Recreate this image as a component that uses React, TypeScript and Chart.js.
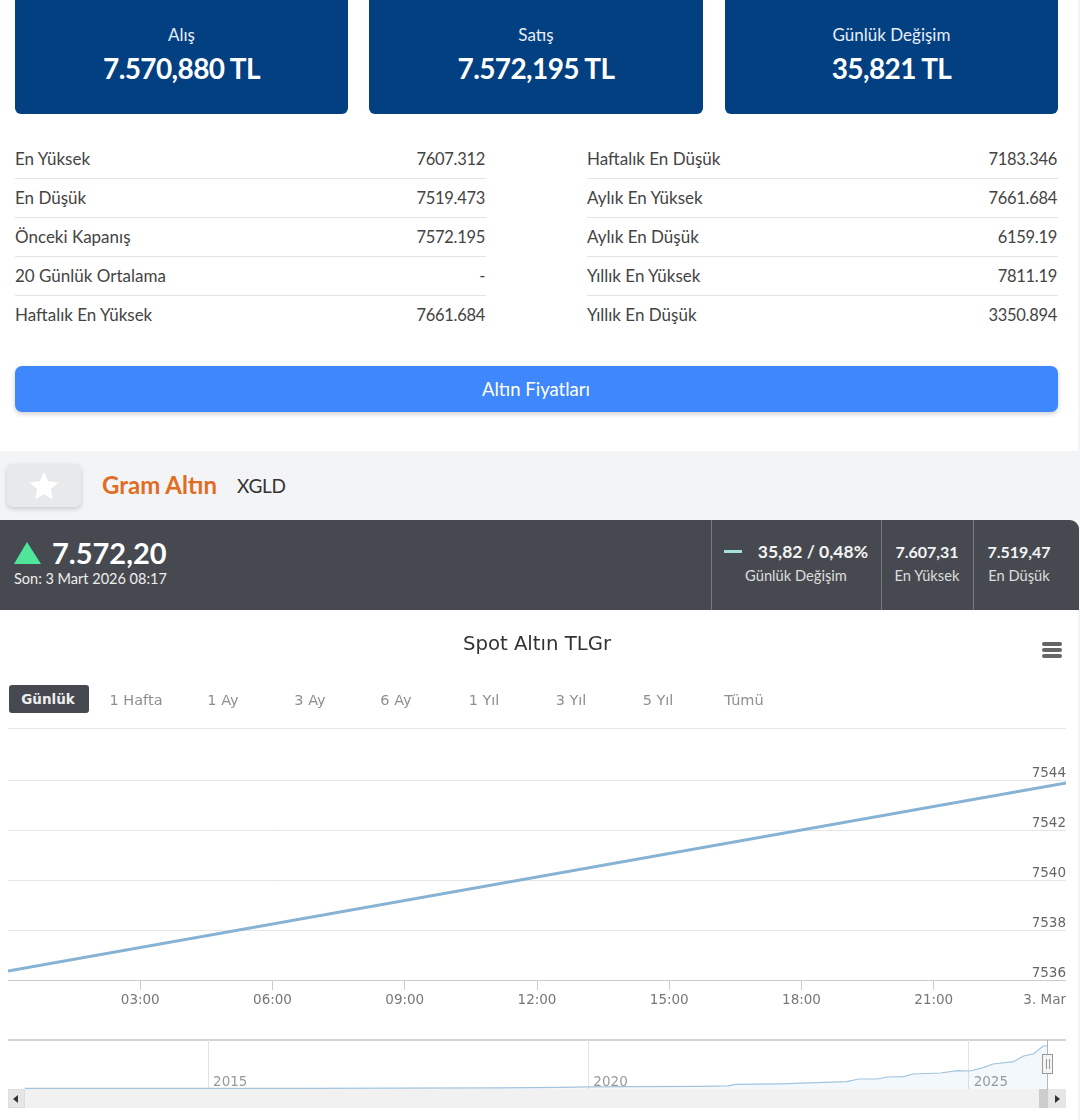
import { useEffect, useRef } from 'react'
import Chart from 'chart.js/auto'

const DEJAVU = '"DejaVu Sans", sans-serif'
const LATO = 'Lato, sans-serif'

// header cards
const cardLabels = ['Alış', 'Satış', 'Günlük Değişim']
const cardValues = ['7.570,880 TL', '7.572,195 TL', '35,821 TL']

// stats table
const leftNames = ['En Yüksek', 'En Düşük', 'Önceki Kapanış', '20 Günlük Ortalama', 'Haftalık En Yüksek']
const leftValues = ['7607.312', '7519.473', '7572.195', '-', '7661.684']
const rightNames = ['Haftalık En Düşük', 'Aylık En Yüksek', 'Aylık En Düşük', 'Yıllık En Yüksek', 'Yıllık En Düşük']
const rightValues = ['7183.346', '7661.684', '6159.19', '7811.19', '3350.894']

// range selector
const ranges = ['1 Hafta', '1 Ay', '3 Ay', '6 Ay', '1 Yıl', '3 Yıl', '5 Yıl', 'Tümü']

// main chart: hours of the day against price
const hours = [0, 24]
const prices = [7536.36, 7543.88]
const hourTicks = [0, 3, 6, 9, 12, 15, 18, 21, 24]
const hourLabels = ['', '03:00', '06:00', '09:00', '12:00', '15:00', '18:00', '21:00', '3. Mar']
const priceTicks = [7536, 7538, 7540, 7542, 7544]
const priceLabels = ['7536', '7538', '7540', '7542', '7544']

// navigator: whole history
const navYears = [2012.59, 2014.58, 2015, 2016.2, 2017.5, 2018.84, 2019.63, 2020, 2020.55, 2021.47, 2021.84, 2021.93, 2022.52, 2023.4, 2023.55, 2023.8, 2023.93, 2024.14, 2024.27, 2024.63, 2024.85, 2025.02, 2025.19, 2025.32, 2025.59, 2025.72, 2025.85, 2025.98, 2026.03]
const navPrices = [120, 100, 105, 120, 150, 200, 290, 370, 430, 460, 540, 800, 900, 1290, 1760, 1760, 2110, 2170, 2640, 2815, 3220, 3170, 3750, 4400, 4800, 5800, 6160, 7570, 7610]
const navTicks = [2015, 2020, 2025]

function Txt({ x, y, size, color = '#444', weight = 400, align = 'left', font = LATO, spacing = 0, children }: any) {
  const shift = align === 'center' ? '-50%' : align === 'right' ? '-100%' : '0'
  return (
    <div style={{ position: 'absolute', left: x, top: y, transform: `translate(${shift}, -50%)`, fontSize: size, color, fontWeight: weight, fontFamily: font, letterSpacing: spacing, whiteSpace: 'nowrap', lineHeight: 1 }}>
      {children}
    </div>
  )
}

function Box({ x, y, w, h, style }: any) {
  return <div style={{ position: 'absolute', left: x, top: y, width: w, height: h, ...style }} />
}

function MainChart() {
  const ref = useRef<HTMLCanvasElement>(null)
  useEffect(() => {
    if (!ref.current) return
    const chart = new Chart(ref.current, {
      type: 'line',
      data: {
        datasets: [{
          data: hours.map((h, i) => ({ x: h, y: prices[i] })),
          borderColor: '#86b2d4',
          borderWidth: 2.8,
          pointRadius: 0,
          tension: 0,
        }],
      },
      options: {
        responsive: false,
        animation: false,
        layout: { padding: 0 },
        plugins: {
          legend: { display: false },
          tooltip: { enabled: false },
          title: { display: true, text: 'Spot Altın TLGr', color: '#333', font: { family: DEJAVU, size: 19.7, weight: 'normal', lineHeight: 1.2 }, padding: { top: 12, bottom: 73.36 } },
        },
        scales: {
          x: {
            type: 'linear',
            min: 0,
            max: 24,
            afterBuildTicks: (s: any) => { s.ticks = hourTicks.map((value) => ({ value })) },
            // keep the plot flush with the canvas edges, the last label is right aligned anyway
            afterFit: (s: any) => { s.height = 40; s.paddingLeft = 0; s.paddingRight = 0 },
            border: { color: '#cccccc' },
            grid: { drawOnChartArea: false, tickLength: 10, tickColor: (c: any) => (c.index === 0 ? 'transparent' : '#cccccc') },
            ticks: {
              align: 'inner',
              autoSkip: false,
              maxRotation: 0,
              padding: 2,
              color: '#777',
              font: { family: DEJAVU, size: 13.5 },
              callback: (v: any) => hourLabels[hourTicks.indexOf(v)],
            },
          },
          y: {
            position: 'right',
            min: 7536,
            max: 7546,
            afterBuildTicks: (s: any) => { s.ticks = priceTicks.map((value) => ({ value })) },
            afterFit: (s: any) => { s.width = 0 },
            border: { display: false },
            grid: { color: '#e6e6e6', drawTicks: false },
            ticks: {
              mirror: true,
              padding: 0,
              labelOffset: -7,
              color: '#666',
              font: { family: DEJAVU, size: 13.5 },
              callback: (v: any) => priceLabels[priceTicks.indexOf(v)],
            },
          },
        },
      },
    } as any)
    return () => chart.destroy()
  }, [])
  return <canvas ref={ref} width={1058} height={399} style={{ position: 'absolute', left: 8, top: 621 }} />
}

function NavChart() {
  const ref = useRef<HTMLCanvasElement>(null)
  useEffect(() => {
    if (!ref.current) return
    const chart = new Chart(ref.current, {
      type: 'line',
      data: {
        datasets: [{
          data: navYears.map((yr, i) => ({ x: yr, y: navPrices[i] })),
          borderColor: '#a3c4dd',
          borderWidth: 1.2,
          backgroundColor: 'rgba(124,181,236,0.09)',
          fill: 'origin',
          pointRadius: 0,
          tension: 0,
        }],
      },
      options: {
        responsive: false,
        animation: false,
        layout: { padding: { left: 16, right: 19 } },
        plugins: { legend: { display: false }, tooltip: { enabled: false } },
        scales: {
          x: {
            type: 'linear',
            min: 2012.58,
            max: 2026.03,
            afterBuildTicks: (s: any) => { s.ticks = navTicks.map((value) => ({ value })) },
            afterFit: (s: any) => { s.height = 0 },
            border: { display: false },
            grid: { color: '#e2e2e2', drawTicks: false },
            ticks: {
              // mirror draws the labels inside the plot, and skips the clip to the zero height axis box
              mirror: true,
              align: 'start',
              maxRotation: 0,
              labelOffset: 5,
              padding: -2,
              color: '#999',
              font: { family: DEJAVU, size: 13.5 },
              callback: (v: any) => String(v),
            },
          },
          y: { display: false, min: 0, max: 8620 },
        },
      },
    } as any)
    return () => chart.destroy()
  }, [])
  return <canvas ref={ref} width={1058} height={49} style={{ position: 'absolute', left: 8, top: 1040 }} />
}

export default function App() {
  const cardX = [15, 369, 725]
  const cardW = [333, 334, 333]
  const rowY = [159, 198, 237, 276, 315]
  const rangeX = [136, 223, 310, 396, 484, 571, 658, 744]
  return (
    <div style={{ position: 'relative', width: 1080, height: 1120, overflow: 'hidden', background: '#fff' }}>
      <style>{'body{margin:0}'}</style>

      {/* page background strip right of the panels */}
      <Box x={1078} y={0} w={2} h={1120} style={{ background: '#f3f4f6' }} />
      <Box x={0} y={451} w={1080} h={69} style={{ background: '#f3f4f6' }} />

      {cardLabels.map((label, i) => (
        <div key={label}>
          <Box x={cardX[i]} y={-10} w={cardW[i]} h={124} style={{ background: '#024082', borderRadius: 6 }} />
          <Txt x={cardX[i] + cardW[i] / 2} y={34} size={17} color="#e8eef6" align="center">{label}</Txt>
          <Txt x={cardX[i] + cardW[i] / 2} y={67.5} size={28} color="#fff" weight={700} align="center" spacing={-0.6}>{cardValues[i]}</Txt>
        </div>
      ))}

      {rowY.map((y, i) => (
        <div key={y}>
          <Txt x={15} y={y - 1} size={17}>{leftNames[i]}</Txt>
          <Txt x={485} y={y} size={16.5} align="right" spacing={-0.3}>{leftValues[i]}</Txt>
          <Txt x={587} y={y - 1} size={17}>{rightNames[i]}</Txt>
          <Txt x={1057} y={y} size={16.5} align="right" spacing={-0.3}>{rightValues[i]}</Txt>
          {i < 4 && <Box x={15} y={y + 19} w={471} h={1} style={{ background: '#e2e4e6' }} />}
          {i < 4 && <Box x={587} y={y + 19} w={471} h={1} style={{ background: '#e2e4e6' }} />}
        </div>
      ))}

      <Box x={15} y={366} w={1043} h={46} style={{ background: '#3f87fd', borderRadius: 7, boxShadow: '0 2px 5px rgba(0,0,0,0.2)' }} />
      <Txt x={536} y={389} size={18.5} color="#fff" align="center">Altın Fiyatları</Txt>

      <Box x={7} y={464} w={74} h={43} style={{ background: '#e8e9ea', borderRadius: 6, boxShadow: '0 2px 5px rgba(0,0,0,0.18)' }} />
      <svg viewBox="0 0 24 24" width={32} height={32} style={{ position: 'absolute', left: 28, top: 470 }}>
        <path fill="#fff" d="M12 1.5l3.2 7 7.6.8-5.7 5.1 1.6 7.5L12 18.1l-6.7 3.8 1.6-7.5L1.2 9.3l7.6-.8z" />
      </svg>
      <Txt x={102} y={485} size={24} color="#e06d23" weight={700}>Gram Altın</Txt>
      <Txt x={237} y={485} size={19} color="#333" spacing={-0.3}>XGLD</Txt>

      {/* dark quote bar */}
      <Box x={0} y={520} w={1079} h={90} style={{ background: '#464a50', borderTopRightRadius: 9 }} />
      <svg width={28} height={24} style={{ position: 'absolute', left: 14, top: 541 }}>
        <polygon points="13,1 27,23 0,23" fill="#4fe69b" />
      </svg>
      <Txt x={52} y={552} size={29} color="#fff" weight={700}>7.572,20</Txt>
      <Txt x={14} y={579} size={14.5} color="#eee">Son: 3 Mart 2026 08:17</Txt>
      <Box x={711} y={520} w={1} h={90} style={{ background: '#777b80' }} />
      <Box x={881} y={520} w={1} h={90} style={{ background: '#777b80' }} />
      <Box x={973} y={520} w={1} h={90} style={{ background: '#777b80' }} />
      <Box x={724} y={550} w={18} h={3} style={{ background: '#a5dfe0' }} />
      <Txt x={868} y={551.5} size={17.5} color="#f4f4f4" weight={700} align="right">35,82 / 0,48%</Txt>
      <Txt x={796} y={575} size={14.7} color="#ddd" align="center">Günlük Değişim</Txt>
      <Txt x={927} y={551.5} size={16} color="#f4f4f4" weight={700} align="center">7.607,31</Txt>
      <Txt x={927} y={575} size={14.7} color="#ddd" align="center">En Yüksek</Txt>
      <Txt x={1019} y={551.5} size={16} color="#f4f4f4" weight={700} align="center">7.519,47</Txt>
      <Txt x={1019} y={575} size={14.7} color="#ddd" align="center">En Düşük</Txt>

      <MainChart />

      {/* export menu icon */}
      {[642, 648, 654].map((y) => (
        <Box key={y} x={1042} y={y} w={20} h={3.5} style={{ background: '#666', borderRadius: 2 }} />
      ))}

      {/* range selector */}
      <Box x={9} y={685} w={80} h={28} style={{ background: '#464a50', borderRadius: 3 }} />
      <Txt x={48} y={700} size={13.5} color="#eee" weight={700} align="center" font={DEJAVU}>Günlük</Txt>
      {ranges.map((r, i) => (
        <Txt key={r} x={rangeX[i]} y={700} size={14.5} color="#8f8f8f" align="center" font={DEJAVU}>{r}</Txt>
      ))}
      <Box x={8} y={728} w={1058} h={1} style={{ background: '#e6e6e6' }} />

      {/* navigator */}
      <Box x={8} y={1039} w={1058} h={2} style={{ background: '#d4d4d4' }} />
      <NavChart />
      <Box x={8} y={1089} w={1058} h={19} style={{ background: '#f1f1f1' }} />
      <Box x={8} y={1089} w={17} h={19} style={{ background: '#e6e6e6', border: '1px solid #ddd', boxSizing: 'border-box' }} />
      <svg width={6} height={8} style={{ position: 'absolute', left: 13, top: 1095 }}><polygon points="5,0 5,8 0,4" fill="#333" /></svg>
      <Box x={1039} y={1089} w={9} h={19} style={{ background: '#cccccc' }} />
      <Box x={1048} y={1089} w={18} h={19} style={{ background: '#e6e6e6' }} />
      <svg width={6} height={8} style={{ position: 'absolute', left: 1055, top: 1095 }}><polygon points="0,0 0,8 5,4" fill="#333" /></svg>
      <Box x={1047} y={1040} w={1} h={49} style={{ background: '#b5b5b5' }} />
      <Box x={1042} y={1054} w={11} h={20} style={{ background: '#f4f4f4', border: '1.5px solid #999', boxSizing: 'border-box' }} />
      <Box x={1045.5} y={1059} w={1} h={10} style={{ background: '#999' }} />
      <Box x={1048.5} y={1059} w={1} h={10} style={{ background: '#999' }} />
    </div>
  )
}
